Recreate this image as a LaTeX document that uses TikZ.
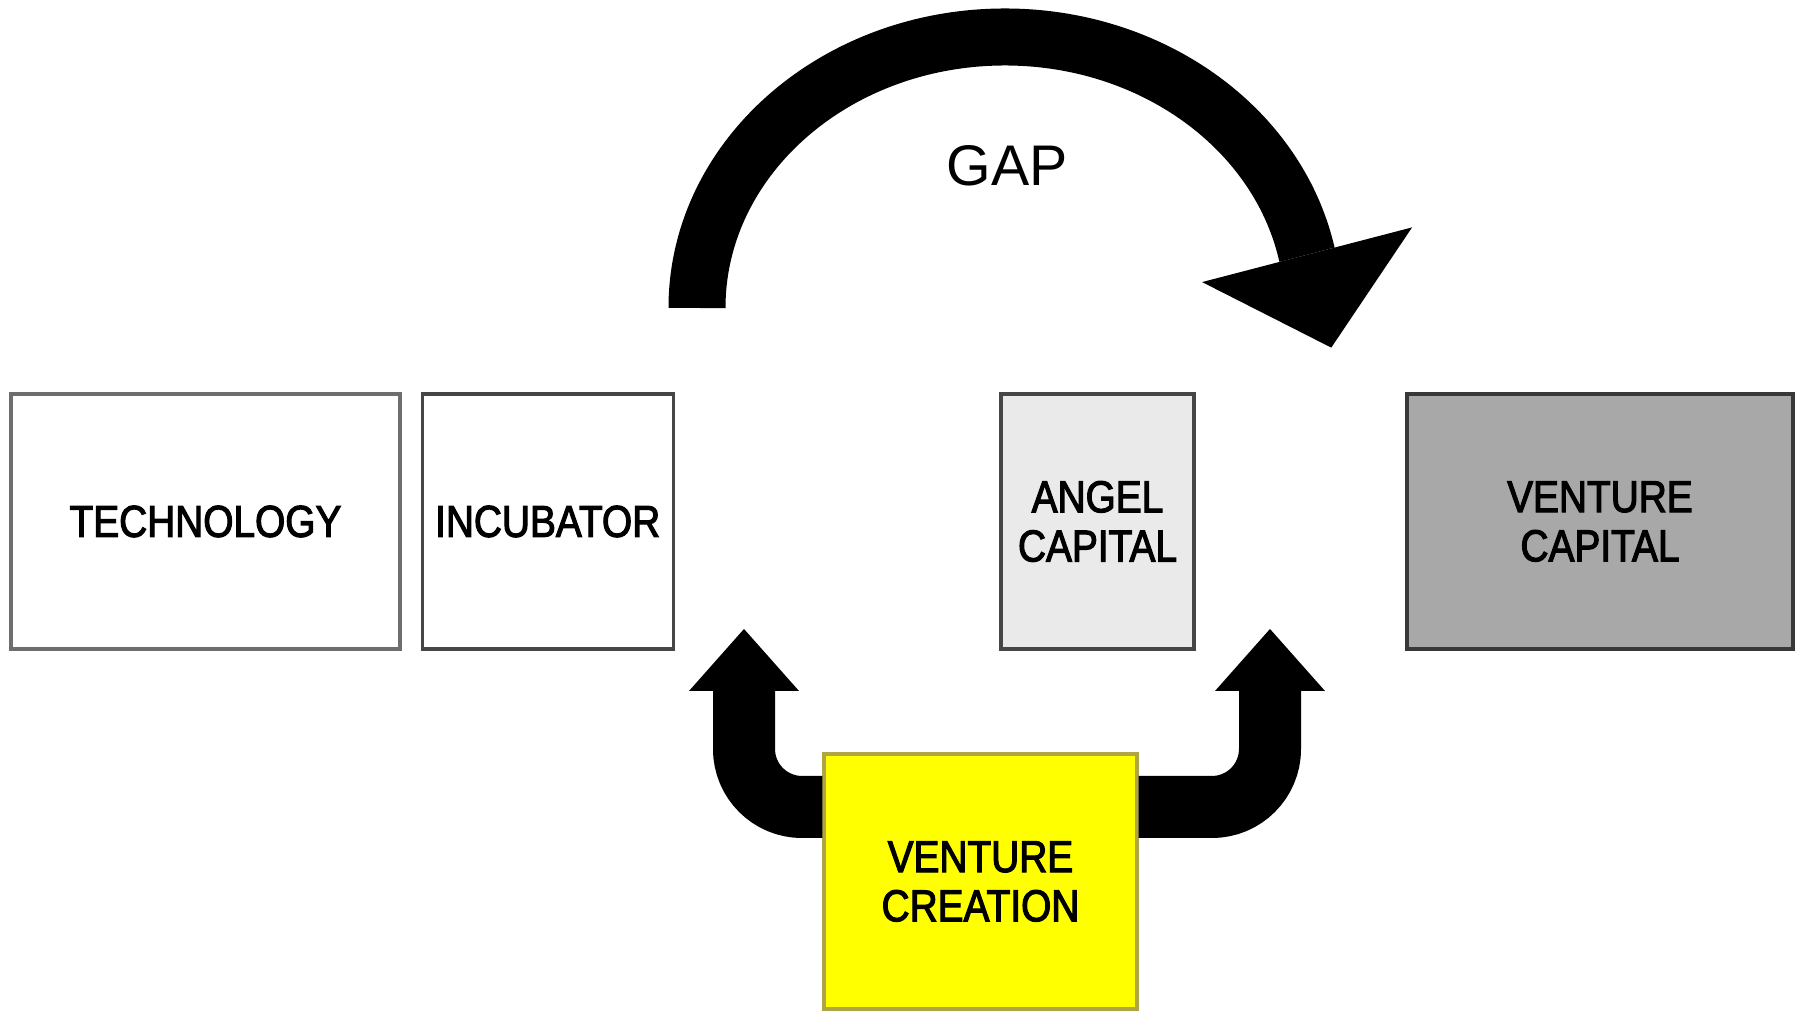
\documentclass[tikz,border=0pt]{standalone}
\usepackage{fontspec}
\setmainfont{Liberation Sans}
\newfontfamily\boxfont{Liberation Sans}[FakeStretch=0.87,FakeBold=2.5]
\usetikzlibrary{arrows.meta,positioning}
\definecolor{edgegray}{RGB}{110,110,110}
\definecolor{darkedge}{RGB}{70,70,70}
\definecolor{angelgray}{RGB}{234,234,234}
\definecolor{vcgray}{RGB}{168,168,168}
\definecolor{creyellow}{RGB}{255,255,0}
\definecolor{creedge}{RGB}{175,165,70}

\begin{document}
\begin{tikzpicture}[
    stage/.style={draw=edgegray, line width=0.9pt, minimum height=2.55cm, inner sep=0pt,
      align=center, font=\boxfont\fontsize{12.7}{14}\selectfont},
    lift/.style={line width=0.62cm, rounded corners=0.58cm,
      -{Triangle[length=0.62cm, width=1.1cm, line width=0pt]}},
    leap/.style={line width=0.57cm,
      -{Triangle[length=0.96cm, width=2.17cm, line width=0pt]}}
  ]
    \useasboundingbox (0,0) rectangle (18,10.11);
    % Stages of the funding path
    \node[stage, minimum width=3.89cm] (tech) at (2.055, 4.895) {TECHNOLOGY};
    \node[stage, minimum width=2.51cm, right=0.19cm of tech, draw=darkedge] (inc) {INCUBATOR};
    \node[stage, minimum width=1.93cm, fill=angelgray, draw=darkedge] (angel) at (10.975, 4.895) {ANGEL\\CAPITAL};
    \node[stage, minimum width=3.86cm, fill=vcgray, draw=darkedge!80!black] (vc) at (16.0, 4.895) {VENTURE\\CAPITAL};
    % Venture creation below the gap
    \node[stage, minimum width=3.13cm, fill=creyellow, draw=creedge] (cre) at (9.805, 1.295) {VENTURE\\CREATION};
    % Free ends of the two lifts
    \coordinate (arm) at (0, 2.04);
    \coordinate (lTip) at (7.44, 3.82);
    \coordinate (rTip) at (12.70, 3.82);
    \draw[lift] (cre.west |- arm) -| (lTip);
    \draw[lift] (cre.east |- arm) -| (rTip);
    % The gap jumped over
    \coordinate (gapStart) at (6.97, 7.03);
    \draw[leap] (gapStart) arc[start angle=180, end angle=12, x radius=3.08cm, y radius=2.71cm]
      -- ++(0.25, -0.96);
    \node[font=\fontsize{16.3}{18}\selectfont] (gap) at (10.07, 8.45) {GAP};
\end{tikzpicture}
\end{document}
